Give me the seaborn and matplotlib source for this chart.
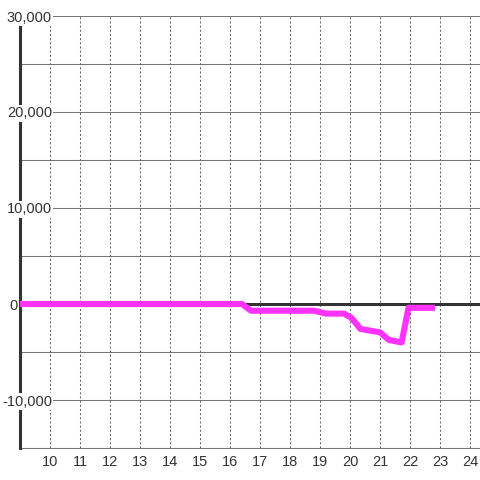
import matplotlib
matplotlib.use("Agg")
import matplotlib.pyplot as plt
import seaborn as sns
import pandas as pd

# series
hours = [9.0, 16.4, 16.7, 18.8, 19.2, 19.8, 20.05, 20.35, 21.0, 21.3, 21.72, 21.95, 22.83]
values = [0, 0, -700, -700, -1000, -1000, -1450, -2600, -2950, -3750, -4000, -400, -400]

x_ticks = list(range(10, 25))
y_ticks = [-10000, 0, 10000, 20000, 30000]
y_grid = [-15000, -10000, -5000, 0, 5000, 10000, 15000, 20000, 25000, 30000]

sns.set_style("white")
plt.rcParams['font.family'] = ['Liberation Sans', 'DejaVu Sans']

df = pd.DataFrame({'hour': hours, 'value': values})

fig = plt.figure(figsize=(4.8, 4.8), dpi=100)
ax = fig.add_axes([20 / 480, 32 / 480, 460 / 480, 432 / 480])

# grid lines drawn by hand so the dotted / solid mix matches
for g in y_grid:
    ax.axhline(g, color='#777777', lw=0.75, zorder=1)
for t in x_ticks:
    ax.axvline(t, color='#666666', lw=0.75, ls=(0, (2, 2)), zorder=1)
ax.axhline(0, color='#333333', lw=2.2, zorder=3)

sns.lineplot(data=df, x='hour', y='value', ax=ax, color='#ff33ff',
             linewidth=4.4, zorder=5)
ax.get_lines()[-1].set_solid_capstyle('butt')

ax.set_xlim(9, 24 + 1 / 3)
ax.set_ylim(-15000, 30000)
ax.set_xticks(x_ticks)
ax.set_yticks(y_ticks)
ax.set_yticklabels([f"{v:,}" for v in y_ticks])
ax.set_xlabel('')
ax.set_ylabel('')

ax.tick_params(axis='both', length=0, labelsize=10.5, labelcolor='#333333')
ax.tick_params(axis='x', pad=5)
ax.tick_params(axis='y', pad=-23)
ax.yaxis.set_zorder(4)
for tick, v in zip(ax.yaxis.get_major_ticks(), y_ticks):
    if v == 0:
        tick.set_pad(2)
for lbl in ax.get_yticklabels():
    lbl.set_bbox(dict(facecolor='white', edgecolor='none', pad=1))

for side in ['top', 'right']:
    ax.spines[side].set_visible(False)
ax.spines['bottom'].set_color('#777777')
ax.spines['bottom'].set_linewidth(0.75)
ax.spines['left'].set_color('#333333')
ax.spines['left'].set_linewidth(2.2)
ax.spines['left'].set_zorder(3.5)

fig.savefig('out.png', dpi=100)
